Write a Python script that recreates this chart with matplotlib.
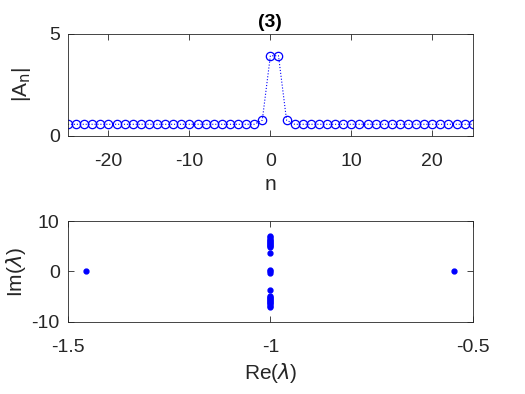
import numpy as np
import matplotlib
matplotlib.use("Agg")
import matplotlib.pyplot as plt

plt.rcParams['font.family'] = ['Liberation Sans', 'DejaVu Sans']
plt.rcParams['mathtext.fontset'] = 'dejavusans'
plt.rcParams['axes.unicode_minus'] = False

# top panel: |A_n| vs n
n = np.arange(-25, 26)
amp = [0.57] * 24 + [0.77, 3.93, 3.93, 0.77] + [0.57] * 23

# bottom panel: eigenvalues
re_lam = [-1.455, -0.547,
          -1.0, -1.0, -1.0,
          -1.0, -1.0, -1.0, -1.0, -1.0, -1.0, -1.0, -1.0, -1.0, -1.0, -1.0, -1.0,
          -1.0, -1.0, -1.0, -1.0, -1.0, -1.0, -1.0, -1.0, -1.0, -1.0, -1.0, -1.0]
im_lam = [0.0, 0.0,
          0.35, 0.0, -0.35,
          3.75, 4.8, 5.05, 5.3, 5.5, 5.7, 5.9, 6.1, 6.3, 6.5, 6.75, 7.0,
          -3.75, -4.8, -5.05, -5.3, -5.5, -5.7, -5.9, -6.1, -6.3, -6.5, -6.75, -7.0]

axc = '#262626'
fig = plt.figure(figsize=(5.25, 3.94), dpi=100)
ax1 = fig.add_axes([0.1295, 0.655, 0.771, 0.259])
ax2 = fig.add_axes([0.1295, 0.183, 0.771, 0.256])

ax1.plot(n, amp, ':', color='blue', lw=0.8, marker='o', ms=6,
         mfc='none', mec='blue', mew=0.9)
ax1.set_xlim(-25, 25)
ax1.set_ylim(0, 5)
ax1.set_xticks([-20, -10, 0, 10, 20])
ax1.set_yticks([0, 5])
ax1.set_xlabel('n', fontsize=15, color=axc, labelpad=4)
ax1.set_ylabel(r'|A$_\mathrm{n}$|', fontsize=15, color=axc)
ax1.set_title('(3)', fontsize=14, fontweight='bold', pad=5)

ax2.plot(re_lam, im_lam, '.', color='blue', ms=7)
ax2.set_xlim(-1.5, -0.5)
ax2.set_ylim(-10, 10)
ax2.set_xticks([-1.5, -1, -0.5])
ax2.set_xticklabels(['-1.5', '-1', '-0.5'])
ax2.set_yticks([-10, 0, 10])
ax2.set_xlabel(r'Re($\lambda$)', fontsize=15, color=axc, labelpad=4)
ax2.set_ylabel(r'Im($\lambda$)', fontsize=15, color=axc)

for ax in (ax1, ax2):
    for s in ax.spines.values():
        s.set_color(axc)
        s.set_linewidth(0.6)
    ax.tick_params(direction='in', top=True, right=True, length=4, width=0.6,
                   colors=axc, labelsize=14)
    ax.tick_params(axis='x', pad=12)
    ax.tick_params(axis='y', pad=6)

ax1.yaxis.set_label_coords(-0.086, 0.5)
ax2.yaxis.set_label_coords(-0.099, 0.5)

fig.savefig('out.png', dpi=100)
